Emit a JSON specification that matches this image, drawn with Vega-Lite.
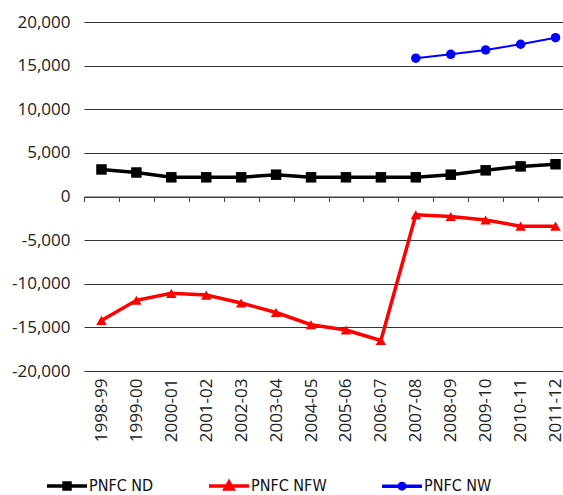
{
  "$schema": "https://vega.github.io/schema/vega-lite/v6.json",
  "autosize": {"type": "none"},
  "padding": {"left": 84, "top": 22, "right": -10, "bottom": 124},
  "width": 489,
  "height": 349,
  "background": "white",
  "config": {
    "view": {"stroke": null},
    "font": "Open Sans"
  },
  "data": {
    "values": [
      {"period": "1998-99", "series": "PNFC ND", "value": 3100},
      {"period": "1999-00", "series": "PNFC ND", "value": 2750},
      {"period": "2000-01", "series": "PNFC ND", "value": 2200},
      {"period": "2001-02", "series": "PNFC ND", "value": 2200},
      {"period": "2002-03", "series": "PNFC ND", "value": 2200},
      {"period": "2003-04", "series": "PNFC ND", "value": 2500},
      {"period": "2004-05", "series": "PNFC ND", "value": 2200},
      {"period": "2005-06", "series": "PNFC ND", "value": 2200},
      {"period": "2006-07", "series": "PNFC ND", "value": 2200},
      {"period": "2007-08", "series": "PNFC ND", "value": 2200},
      {"period": "2008-09", "series": "PNFC ND", "value": 2500},
      {"period": "2009-10", "series": "PNFC ND", "value": 3000},
      {"period": "2010-11", "series": "PNFC ND", "value": 3450},
      {"period": "2011-12", "series": "PNFC ND", "value": 3700},
      {"period": "1998-99", "series": "PNFC NFW", "value": -14200},
      {"period": "1999-00", "series": "PNFC NFW", "value": -11900},
      {"period": "2000-01", "series": "PNFC NFW", "value": -11100},
      {"period": "2001-02", "series": "PNFC NFW", "value": -11300},
      {"period": "2002-03", "series": "PNFC NFW", "value": -12200},
      {"period": "2003-04", "series": "PNFC NFW", "value": -13300},
      {"period": "2004-05", "series": "PNFC NFW", "value": -14700},
      {"period": "2005-06", "series": "PNFC NFW", "value": -15300},
      {"period": "2006-07", "series": "PNFC NFW", "value": -16500},
      {"period": "2007-08", "series": "PNFC NFW", "value": -2100},
      {"period": "2008-09", "series": "PNFC NFW", "value": -2300},
      {"period": "2009-10", "series": "PNFC NFW", "value": -2700},
      {"period": "2010-11", "series": "PNFC NFW", "value": -3400},
      {"period": "2011-12", "series": "PNFC NFW", "value": -3400},
      {"period": "2007-08", "series": "PNFC NW", "value": 15850},
      {"period": "2008-09", "series": "PNFC NW", "value": 16300},
      {"period": "2009-10", "series": "PNFC NW", "value": 16800},
      {"period": "2010-11", "series": "PNFC NW", "value": 17450},
      {"period": "2011-12", "series": "PNFC NW", "value": 18200}
    ]
  },
  "encoding": {
    "x": {
      "field": "period",
      "type": "ordinal",
      "sort": null,
      "scale": {"type": "band", "paddingInner": 0, "paddingOuter": 0},
      "axis": {
        "title": null,
        "offset": -174.5,
        "domain": true,
        "domainColor": "#444",
        "domainWidth": 1,
        "ticks": true,
        "tickBand": "extent",
        "tickSize": 5,
        "tickColor": "#444",
        "labelAngle": -90,
        "labelPadding": 176.5,
        "labelFont": "Open Sans",
        "labelFontSize": 17,
        "labelColor": "#222",
        "grid": false
      }
    },
    "y": {
      "field": "value",
      "type": "quantitative",
      "scale": {"domain": [-20000, 20000], "nice": false},
      "axis": {
        "title": null,
        "values": [-20000, -15000, -10000, -5000, 0, 5000, 10000, 15000, 20000],
        "format": ",d",
        "labelExpr": "replace(datum.label, '−', '-')",
        "domain": false,
        "ticks": false,
        "labelPadding": 14,
        "labelFont": "Open Sans",
        "labelFontSize": 17,
        "labelColor": "#222",
        "grid": true,
        "gridColor": "#333",
        "gridWidth": 1,
        "gridOpacity": 1
      }
    }
  },
  "layer": [
    {
      "mark": {"type": "line"},
      "encoding": {
        "color": {
          "field": "series",
          "type": "nominal",
          "scale": {"domain": ["PNFC ND", "PNFC NFW", "PNFC NW"], "range": ["#000000", "#ff0000", "#0000ff"]},
          "legend": {
            "title": null,
            "orient": "none",
            "direction": "horizontal",
            "legendX": -25,
            "legendY": 456,
            "padding": 0,
            "symbolSize": 100,
            "symbolStrokeWidth": 3.5,
            "symbolOpacity": 1,
            "symbolType": {"expr": "datum.value === 'PNFC ND' ? 'M-4,0H4M-0.6,-0.6H0.6V0.6H-0.6Z' : datum.value === 'PNFC NFW' ? 'M-4,0H4M0,-0.8L0.8,0.6L-0.8,0.6Z' : 'M-4,0H4M-0.55,0A0.55,0.55 0 1,0 0.55,0A0.55,0.55 0 1,0 -0.55,0Z'"},
            "symbolFillColor": {"expr": "scale('color', datum.value)"},
            "symbolStrokeColor": {"expr": "scale('color', datum.value)"},
            "labelOffset": 14,
            "columnPadding": 48,
            "labelFont": "'Liberation Sans Narrow', 'DejaVu Sans Condensed', 'Open Sans', sans-serif",
            "labelFontSize": 16,
            "labelColor": "#111"
          }
        },
        "strokeWidth": {"condition": {"test": "datum.series === 'PNFC NW'", "value": 2}, "value": 3.5}
      }
    },
    {
      "transform": [{"filter": "datum.series === 'PNFC ND'"}],
      "mark": {"type": "point", "filled": true, "opacity": 1, "shape": "square", "color": "#000000", "size": 110}
    },
    {
      "transform": [{"filter": "datum.series === 'PNFC NFW'"}],
      "mark": {"type": "point", "filled": true, "opacity": 1, "shape": "triangle-up", "color": "#ff0000", "size": 110}
    },
    {
      "transform": [{"filter": "datum.series === 'PNFC NW'"}],
      "mark": {"type": "point", "filled": true, "opacity": 1, "shape": "circle", "color": "#0000ff", "size": 90}
    }
  ]
}
